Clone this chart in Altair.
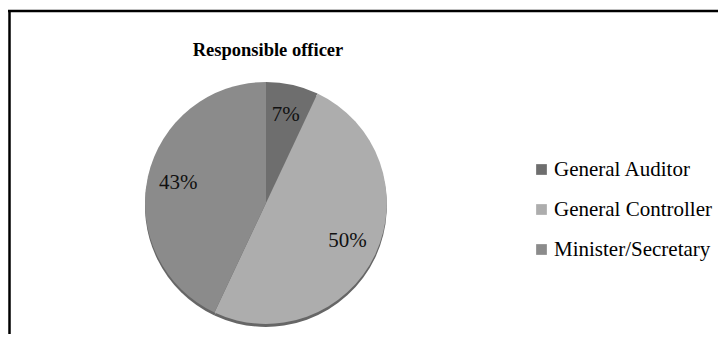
import altair as alt
import pandas as pd

categories = ["General Auditor", "General Controller", "Minister/Secretary"]
shares = [7, 50, 43]
labels = ["7%", "50%", "43%"]
colors = ["#6e6e6e", "#adadad", "#8b8b8b"]
title_text = "Responsible officer"

df = pd.DataFrame({"category": categories, "share": shares, "label": labels,
                   "idx": list(range(len(categories)))})

W, H = 710, 326
CX, CY, R = 258, 195, 121
SERIF = "Liberation Serif, Times New Roman, serif"

base = alt.Chart(df).encode(
    theta=alt.Theta("share:Q", stack=True),
    order=alt.Order("idx:Q"),
)

shadow = base.mark_arc(outerRadius=R, color="#666666").encode(
    x=alt.value(CX), y=alt.value(CY + 3)
)

pie = base.mark_arc(outerRadius=R).encode(
    x=alt.value(CX), y=alt.value(CY),
    color=alt.Color(
        "category:N",
        scale=alt.Scale(domain=categories, range=colors),
        legend=alt.Legend(
            title=None, orient="none", legendX=523, legendY=151,
            symbolType="square", symbolSize=115, symbolStrokeWidth=0,
            labelFont=SERIF, labelFontSize=21, labelColor="#000000",
            rowPadding=18, labelOffset=2, labelLimit=300,
        ),
    ),
)

text = base.mark_text(radius=90, font=SERIF, fontSize=21,
                      color="#111111").encode(
    x=alt.value(CX), y=alt.value(CY), text="label:N"
)

one = pd.DataFrame({"a": [0]})
title = alt.Chart(one).mark_text(
    text=title_text, font=SERIF, fontSize=18.5, fontWeight="bold",
    color="#000000", baseline="middle", align="center"
).encode(x=alt.value(260), y=alt.value(42))

frame_top = alt.Chart(one).mark_rule(color="#000000", strokeWidth=2.5).encode(
    x=alt.value(0), x2=alt.value(W), y=alt.value(3)
)
frame_left = alt.Chart(one).mark_rule(color="#000000", strokeWidth=2.5).encode(
    x=alt.value(1.5), y=alt.value(2), y2=alt.value(H + 10)
)

chart = alt.layer(shadow, pie, text, title, frame_top, frame_left).properties(
    width=W, height=H, padding=0, background="#ffffff",
    autosize=alt.AutoSizeParams(type="none"),
).configure_view(stroke=None)

chart.save("out.html", embed_options={"renderer": "svg", "actions": False})
